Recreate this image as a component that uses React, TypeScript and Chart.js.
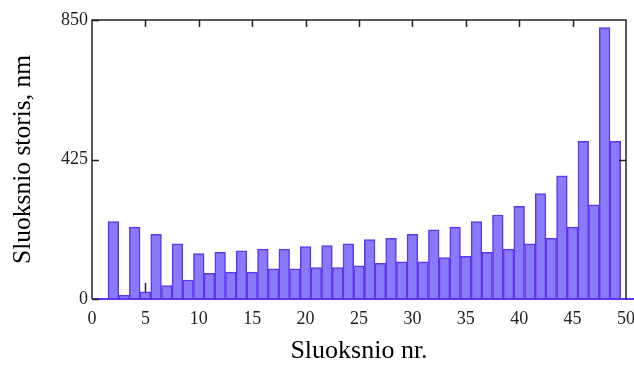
import { useEffect, useRef } from "react";
import { Chart, registerables } from "chart.js";

Chart.register(...registerables);

// Layer numbers and their thickness (nm)
const layerNumbers = [
  2, 3, 4, 5, 6, 7, 8, 9, 10, 11, 12, 13, 14, 15, 16, 17, 18, 19, 20, 21, 22, 23, 24, 25,
  26, 27, 28, 29, 30, 31, 32, 33, 34, 35, 36, 37, 38, 39, 40, 41, 42, 43, 44, 45, 46, 47, 48, 49,
];
const thickness = [
  236, 12, 219, 22, 197, 41, 168, 58, 138, 78, 142, 82, 147, 82, 152, 92, 152, 92, 160, 96, 163, 96, 168, 101,
  181, 109, 185, 113, 197, 113, 211, 126, 219, 130, 236, 142, 256, 152, 282, 168, 321, 185, 375, 219, 480, 287, 827, 480,
];
const xTickValues = [0, 5, 10, 15, 20, 25, 30, 35, 40, 45, 50];
const yTickValues = [0, 425, 850];

const BAR_FILL = "rgba(136, 122, 248, 1)";
const BAR_EDGE = "rgb(96, 52, 240)";
const FRAME = "#222";

// Mathcad-style frame: axis lines on all sides with inward tick marks
const framePlugin = {
  id: "frame",
  beforeDatasetsDraw(chart: any) {
    const { ctx, chartArea: a, scales } = chart;
    ctx.save();
    ctx.strokeStyle = FRAME;
    ctx.lineWidth = 1.5;
    // bottom inward ticks (behind the bars)
    for (const v of xTickValues.slice(1, -1)) {
      const x = Math.round(scales.x.getPixelForValue(v)) + 0.5;
      ctx.beginPath();
      ctx.moveTo(x, a.bottom);
      ctx.lineTo(x, a.bottom - 16);
      ctx.stroke();
    }
    ctx.restore();
  },
  afterDatasetsDraw(chart: any) {
    const { ctx, chartArea: a, scales, width } = chart;
    ctx.save();
    // baseline drawn in the bar edge colour
    ctx.strokeStyle = BAR_EDGE;
    ctx.lineWidth = 2;
    ctx.beginPath();
    ctx.moveTo(a.left, a.bottom);
    ctx.lineTo(width, a.bottom);
    ctx.stroke();

    ctx.strokeStyle = FRAME;
    ctx.lineWidth = 1.5;
    ctx.beginPath();
    ctx.moveTo(a.left, a.bottom);
    ctx.lineTo(a.left, a.top);
    ctx.lineTo(a.right, a.top);
    ctx.lineTo(a.right, a.bottom);
    ctx.stroke();

    // left ticks
    for (const v of yTickValues) {
      const y = Math.round(scales.y.getPixelForValue(v)) + 0.5;
      ctx.beginPath();
      ctx.moveTo(a.left, y);
      ctx.lineTo(a.left + 7, y);
      ctx.stroke();
    }
    // right tick
    {
      const y = Math.round(scales.y.getPixelForValue(425)) + 0.5;
      ctx.beginPath();
      ctx.moveTo(a.right, y);
      ctx.lineTo(a.right - 7, y);
      ctx.stroke();
    }
    // top ticks
    for (const v of xTickValues.slice(1, -1)) {
      const x = Math.round(scales.x.getPixelForValue(v)) + 0.5;
      ctx.beginPath();
      ctx.moveTo(x, a.top);
      ctx.lineTo(x, a.top + 7);
      ctx.stroke();
    }
    ctx.restore();
  },
};

export default function App() {
  const ref = useRef<HTMLCanvasElement>(null);

  useEffect(() => {
    const canvas = ref.current;
    if (!canvas) return;
    const chart = new Chart(canvas, {
      type: "bar",
      data: {
        datasets: [
          {
            data: layerNumbers.map((n, i) => ({ x: n, y: thickness[i] })),
            backgroundColor: BAR_FILL,
            borderColor: BAR_EDGE,
            borderWidth: 1.5,
            barPercentage: 1,
            categoryPercentage: 1,
          },
        ],
      },
      options: {
        responsive: false,
        animation: false,
        events: [],
        layout: { padding: { left: 2, top: 20, right: 8, bottom: 0 } },
        plugins: { legend: { display: false }, tooltip: { enabled: false } },
        scales: {
          x: {
            type: "linear",
            min: 0,
            max: 50,
            offset: false,
            afterBuildTicks: (s: any) => {
              s.ticks = xTickValues.map((value) => ({ value }));
            },
            afterFit: (s: any) => {
              s.height = 68;
              s.paddingLeft = 0;
              s.paddingRight = 0;
            },
            grid: { display: false, drawTicks: false },
            border: { display: false },
            ticks: {
              padding: 9,
              color: "#222",
              font: { family: "Liberation Serif", size: 18 },
            },
            title: {
              display: true,
              text: "Sluoksnio nr.",
              color: "#000",
              padding: { top: 0, bottom: 0 },
              font: { family: "Liberation Serif", size: 26 },
            },
          },
          y: {
            type: "linear",
            min: 0,
            max: 850,
            afterBuildTicks: (s: any) => {
              s.ticks = yTickValues.map((value) => ({ value }));
            },
            afterFit: (s: any) => {
              s.width = 90;
              s.paddingTop = 0;
              s.paddingBottom = 0;
            },
            grid: { display: false, drawTicks: false },
            border: { display: false },
            ticks: {
              padding: 4,
              color: "#222",
              font: { family: "Liberation Serif", size: 18 },
            },
            title: {
              display: true,
              text: "Sluoksnio storis, nm",
              color: "#000",
              padding: { top: 6, bottom: 0 },
              font: { family: "Liberation Serif", size: 25.5 },
            },
          },
        },
      },
      plugins: [framePlugin],
    });
    return () => chart.destroy();
  }, []);

  return (
    <div style={{ position: "absolute", left: 0, top: 0, width: 634, height: 367, background: "#fff" }}>
      <canvas ref={ref} width={634} height={367} />
    </div>
  );
}
